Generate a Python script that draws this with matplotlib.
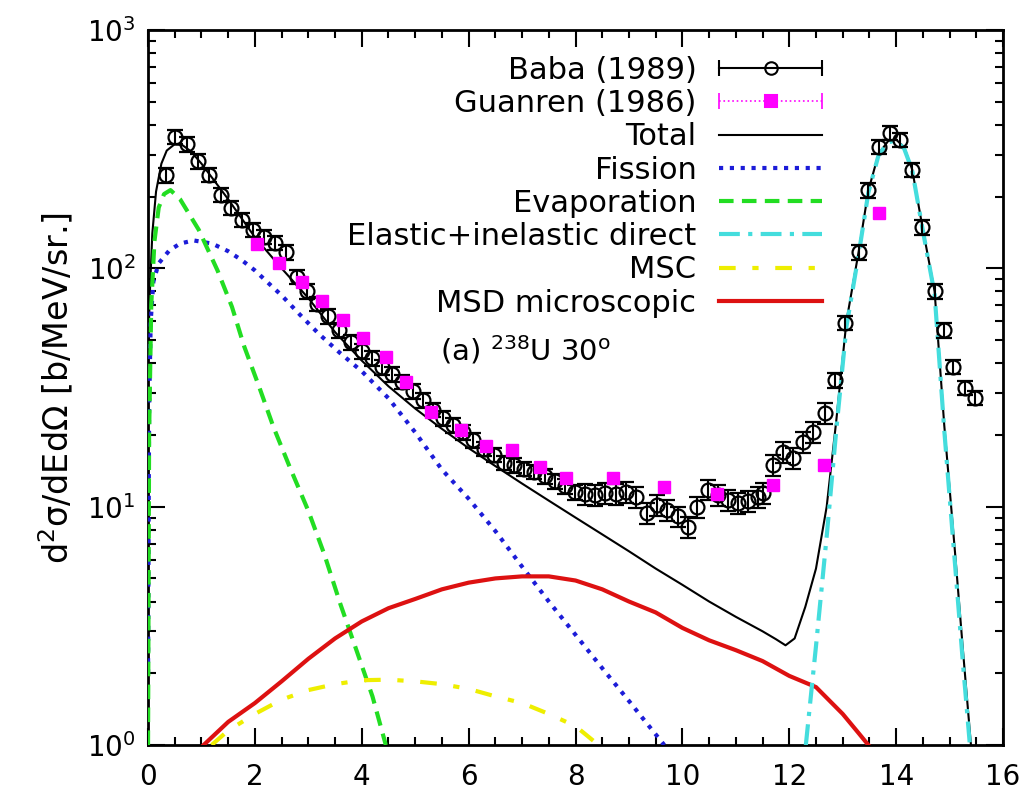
import numpy as np
import matplotlib
matplotlib.use('Agg')
import matplotlib.pyplot as plt
from matplotlib.lines import Line2D
from matplotlib.legend_handler import HandlerBase
from matplotlib.ticker import MultipleLocator, LogLocator, NullFormatter

baba_e = [0.34, 0.51, 0.72, 0.93, 1.15, 1.36, 1.55, 1.76, 1.97, 2.17, 2.37, 2.59, 2.78, 2.97,
          3.17, 3.37, 3.58, 3.79, 4.00, 4.19, 4.38, 4.57, 4.76, 4.95, 5.14, 5.33, 5.52, 5.71,
          5.90, 6.09, 6.28, 6.47, 6.66, 6.85, 7.04, 7.23, 7.42, 7.61, 7.80, 7.99, 8.18, 8.37,
          8.56, 8.75, 8.94, 9.13, 9.34, 9.53, 9.72, 9.91, 10.10, 10.28, 10.47, 10.66, 10.85,
          11.04, 11.23, 11.42, 11.50, 11.69, 11.88, 12.07, 12.25, 12.44, 12.66, 12.85, 13.05,
          13.30, 13.48, 13.67, 13.88, 14.08, 14.30, 14.49, 14.72, 14.89, 15.06, 15.28, 15.47]
baba_sig = [246, 356, 332, 282, 247, 204, 180, 160, 145, 136, 128, 117, 92, 80,
            71, 63, 55, 49, 45, 42, 38.5, 36, 33.5, 30.5, 28, 25.5, 23.5, 22,
            20.5, 19, 17.5, 16.5, 15.3, 14.9, 14.4, 14.0, 13.4, 12.8, 12.2, 11.5, 11.3, 11.2,
            11.4, 11.3, 11.5, 11.0, 9.4, 10.2, 9.7, 9.1, 8.2, 10.0, 11.8, 11.2, 10.7,
            10.4, 10.6, 11.0, 11.4, 15.0, 17.0, 16.0, 18.7, 20.6, 24.7, 34, 59,
            117, 213, 323, 370, 346, 259, 149, 80, 55, 38.6, 31.5, 28.6]

guan_e = [2.03, 2.46, 2.88, 3.26, 3.64, 4.03, 4.45, 4.83, 5.30, 5.85, 6.32, 6.82, 7.33,
          7.82, 8.71, 9.66, 10.64, 11.69, 12.65, 13.67]
guan_sig = [127, 105, 88, 73, 61, 51, 42.5, 33.5, 25, 21, 18, 17.3, 14.7,
            13.2, 13.2, 12.1, 11.3, 12.3, 15.0, 171]

# calculos
total_e = [0.0, 0.03, 0.08, 0.15, 0.25, 0.35, 0.5, 0.65, 0.8, 1.0, 1.5, 2.0, 2.5, 3.0, 3.5,
           4.0, 4.5, 5.0, 5.5, 6.0, 6.5, 7.0, 7.5, 8.0, 8.5, 9.0, 9.5, 10.0, 10.5, 11.0, 11.5,
           11.75, 11.93, 12.1, 12.3, 12.5, 12.7, 12.88, 13.07, 13.3, 13.48, 13.67, 13.85,
           14.0, 14.15, 14.3, 14.49, 14.72, 14.9, 15.1, 15.25, 15.4]
total_sig = [40, 75, 140, 210, 275, 312, 332, 328, 310, 275, 195, 135, 100, 75, 54,
             41, 32, 25.8, 21.2, 17.6, 14.8, 12.5, 10.6, 9.0, 7.65, 6.5, 5.5, 4.7, 4.0, 3.45,
             3.0, 2.78, 2.62, 2.8, 3.8, 5.5, 10, 23, 60, 118, 212, 302, 342,
             347, 322, 260, 150, 80, 22, 6.5, 2.5, 1.0]

fis_e = [0.0, 0.02, 0.05, 0.1, 0.2, 0.4, 0.6, 0.85, 1.2, 1.5, 1.76, 2.0, 2.27, 2.5, 2.84,
         3.2, 3.6, 4.0, 4.5, 5.0, 5.5, 6.0, 6.5, 7.0, 7.5, 8.0, 8.5, 9.0, 9.3, 9.66]
fis_sig = [2, 25, 60, 88, 105, 119, 127, 131, 127, 118, 108, 98, 86, 77, 64,
           53, 44, 37, 28.5, 20.5, 14.3, 10.8, 7.9, 5.6, 4.0, 2.9, 2.1, 1.53, 1.26, 1.0]

evap_e = [0.0, 0.02, 0.06, 0.12, 0.2, 0.3, 0.42, 0.6, 0.95, 1.3, 1.57, 1.8, 2.08, 2.35,
          2.65, 3.0, 3.3, 3.6, 3.9, 4.2, 4.45]
evap_sig = [1.0, 20, 70, 130, 180, 205, 213, 195, 145, 98, 69, 47, 31.8, 21.5,
            14.7, 9.6, 6.3, 3.9, 2.5, 1.6, 1.0]

dir_e = [12.31, 12.5, 12.7, 12.88, 13.07, 13.3, 13.48, 13.67, 13.85, 14.0, 14.15, 14.3,
         14.49, 14.72, 14.9, 15.1, 15.25, 15.38]
dir_sig = [1.0, 2.6, 7.5, 21, 57, 115, 208, 298, 338, 344, 318, 258,
           148, 78, 21, 5.8, 2.2, 1.0]

msc_e = [1.19, 1.5, 2.0, 2.5, 3.0, 3.5, 4.0, 4.5, 5.0, 5.5, 6.0, 6.5, 7.0, 7.5, 8.0, 8.43]
msc_sig = [1.0, 1.15, 1.35, 1.55, 1.7, 1.8, 1.87, 1.88, 1.85, 1.8, 1.72, 1.6, 1.5, 1.35,
           1.2, 1.0]

msd_e = [1.04, 1.5, 2.0, 2.5, 3.0, 3.5, 4.0, 4.5, 5.0, 5.5, 6.0, 6.5, 7.0, 7.5, 8.0, 8.5,
         9.0, 9.5, 10.0, 10.5, 11.0, 11.5, 12.0, 12.5, 13.0, 13.3, 13.48]
msd_sig = [1.0, 1.25, 1.5, 1.85, 2.3, 2.8, 3.3, 3.75, 4.1, 4.5, 4.8, 5.0, 5.1, 5.1, 4.9,
           4.5, 4.0, 3.6, 3.1, 2.75, 2.5, 2.25, 1.95, 1.75, 1.35, 1.12, 1.0]


class HandlerBarra(HandlerBase):
    # linha horizontal com pontas e marcador no meio (estilo gnuplot)
    def __init__(self, cor, ls, lw, marker, ms, mfc):
        HandlerBase.__init__(self)
        self.cor = cor
        self.ls = ls
        self.lw = lw
        self.marker = marker
        self.ms = ms
        self.mfc = mfc

    def create_artists(self, legend, orig_handle, xdescent, ydescent, width, height,
                       fontsize, trans):
        y = height / 2.0 - ydescent
        x0 = -xdescent
        x1 = width - xdescent
        linha = Line2D([x0, x1], [y, y], color=self.cor, lw=self.lw, ls=self.ls)
        pontas = Line2D([x0, x1], [y, y], ls='none', marker='|', ms=12, mew=self.lw,
                        color=self.cor)
        meio = Line2D([(x0 + x1) / 2.0], [y], ls='none', marker=self.marker, ms=self.ms,
                      mfc=self.mfc, mec=self.cor, mew=1.5)
        for a in (linha, pontas, meio):
            a.set_transform(trans)
        return [linha, pontas, meio]


fig = plt.figure(figsize=(10.28, 7.94), dpi=100)
ax = fig.add_axes([0.144, 0.0617, 0.8317, 0.9005])

baba_e = np.array(baba_e)
baba_sig = np.array(baba_sig)
rel = np.where((baba_e > 8.0) & (baba_e < 12.7), 0.10, 0.07)
ax.errorbar(baba_e, baba_sig, yerr=rel * baba_sig, fmt='o', mfc='none', mec='k', ms=10,
            mew=1.6, ecolor='k', elinewidth=1.5, capsize=6, capthick=1.5, zorder=5)
ax.plot(guan_e, guan_sig, 's', color='#ff00ff', ms=9, zorder=6)

ax.plot(total_e, total_sig, '-', color='k', lw=1.5, zorder=3)
ax.plot(fis_e, fis_sig, color='#1c1cd8', lw=3, ls=(0, (1, 1.6)), zorder=3)
ax.plot(evap_e, evap_sig, color='#22dd22', lw=3, ls=(0, (3.5, 2)), zorder=3)
ax.plot(dir_e, dir_sig, color='#44dddd', lw=3, ls=(0, (5, 2, 1, 2)), zorder=4)
ax.plot(msc_e, msc_sig, color='#eeee00', lw=3, ls=(0, (4, 4, 1.5, 4)), zorder=3)
ax.plot(msd_e, msd_sig, color='#dd1111', lw=3, zorder=3)

ax.set_yscale('log')
ax.set_xlim(0, 16)
ax.set_ylim(1, 1000)
ax.xaxis.set_major_locator(MultipleLocator(2))
ax.xaxis.set_minor_locator(MultipleLocator(0.5))
ax.yaxis.set_major_locator(LogLocator(base=10))
ax.yaxis.set_minor_locator(LogLocator(base=10, subs=np.arange(2, 10)))
ax.yaxis.set_minor_formatter(NullFormatter())
ax.tick_params(which='both', direction='in', top=True, right=True, labelsize=20, width=1.5)
ax.tick_params(which='major', length=12, pad=9)
ax.tick_params(axis='x', which='major', pad=13)
ax.tick_params(which='minor', length=6)
for s in ax.spines.values():
    s.set_linewidth(2)

ax.set_ylabel(r'd$^2$σ/dEdΩ [b/MeV/sr.]', fontsize=24, labelpad=8)

# legenda
h_baba = Line2D([], [], color='k')
h_guan = Line2D([], [], color='#ff00ff')
handles = [h_baba, h_guan,
           Line2D([], [], color='k', lw=1.5),
           Line2D([], [], color='#1c1cd8', lw=3, ls=(0, (1, 1.6))),
           Line2D([], [], color='#22dd22', lw=3, ls=(0, (3.5, 2))),
           Line2D([], [], color='#44dddd', lw=3, ls=(0, (5, 2, 1, 2))),
           Line2D([], [], color='#eeee00', lw=3, ls=(0, (4, 4, 1.5, 4))),
           Line2D([], [], color='#dd1111', lw=3)]
labels = ['Baba (1989)', 'Guanren (1986)', 'Total', 'Fission', 'Evaporation',
          'Elastic+inelastic direct', 'MSC', 'MSD microscopic']
hmap = {h_baba: HandlerBarra('k', '-', 1.5, 'o', 9, 'none'),
        h_guan: HandlerBarra('#ff00ff', ':', 1.2, 's', 9, '#ff00ff')}
ax.legend(handles, labels, handler_map=hmap, loc='upper right',
          bbox_to_anchor=(0.788, 0.964), frameon=False, markerfirst=False,
          fontsize=22, handlelength=3.35, handletextpad=0.75, labelspacing=0.14,
          borderpad=0, borderaxespad=0)

ax.text(0.441, 0.552, r'(a) $^{238}$U 30$^{\rm o}$', transform=ax.transAxes,
        fontsize=21, ha='center', va='center')

fig.savefig('out.png', dpi=100)
